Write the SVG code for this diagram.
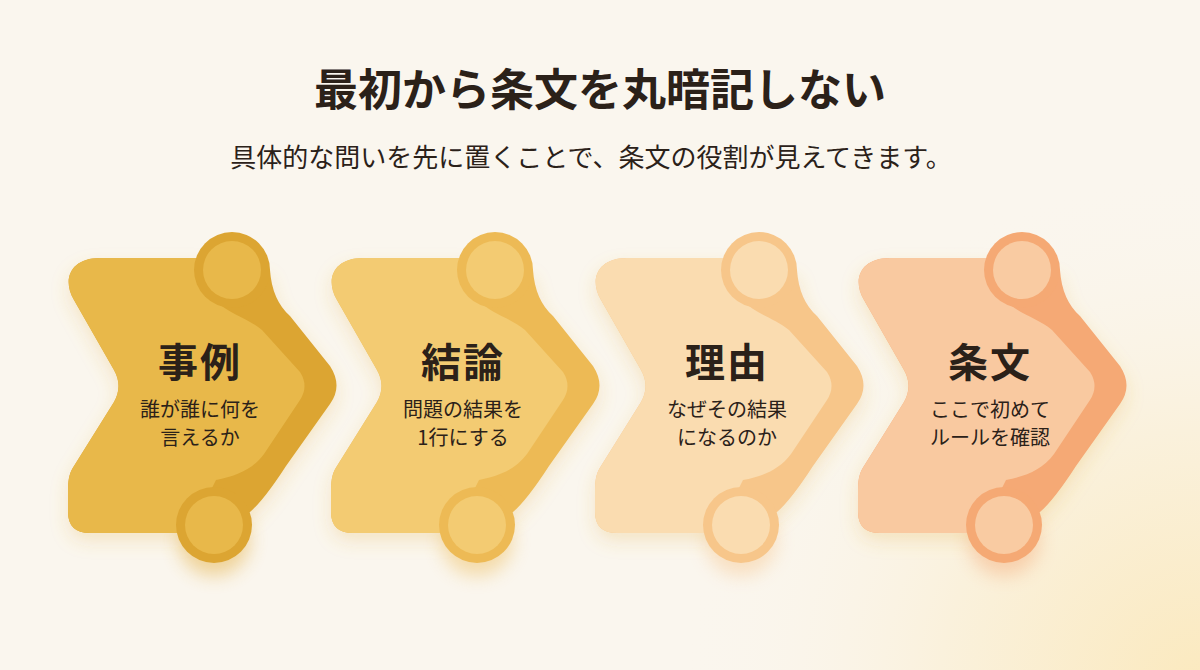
<svg xmlns="http://www.w3.org/2000/svg" xmlns:xlink="http://www.w3.org/1999/xlink" width="1200" height="670" viewBox="0 0 1200 670">
<defs>
<radialGradient id="bgGlow" cx="1200" cy="690" r="520" gradientUnits="userSpaceOnUse">
<stop offset="0" stop-color="#FBE9BE"/>
<stop offset="0.5" stop-color="#FAF1DC"/>
<stop offset="1" stop-color="#FAF6EE" stop-opacity="0"/>
</radialGradient>
<filter id="soft" x="-30%" y="-30%" width="160%" height="170%">
<feDropShadow dx="0" dy="8" stdDeviation="9" flood-color="#E0A838" flood-opacity="0.22"/>
</filter>
<filter id="glow" x="-60%" y="-60%" width="220%" height="220%">
<feGaussianBlur stdDeviation="9"/>
</filter>
<path id="silh" d="M100,258 L200,258 L232,270 L270,270 Q272,300 290,316 L330,366 Q343,386 330,404 L286,466 Q264,500 250,512 L214,525 L180,533 L90,533 Q68,533 68,512 L68,490 C68,478 70,472 74,466 L114,402 Q123,386 114,370 L74,300 C62,280 70,258 100,258 Z"/>
<path id="body" d="M100,258 L205,258 L215,300 C228,314 248,318 262,330 L300,372 Q309,386 300,400 L264,454 C252,470 236,476 216,480 L206,500 L180,533 L90,533 Q68,533 68,512 L68,490 C68,478 70,472 74,466 L114,402 Q123,386 114,370 L74,300 C62,280 70,258 100,258 Z"/>
</defs>
<style>
.ttl{font-family:"Noto Sans CJK JP","Noto Sans",sans-serif;font-weight:700;fill:#2B2119;text-anchor:middle}
.sub{font-family:"Noto Sans CJK JP","Noto Sans",sans-serif;font-weight:400;fill:#2B2119;text-anchor:middle}
.nt{font-family:"Noto Sans CJK JP","Noto Sans",sans-serif;font-weight:700;font-size:40px;letter-spacing:2px;fill:#2B2119;text-anchor:middle}
.nd{font-family:"Noto Sans CJK JP","Noto Sans",sans-serif;font-weight:400;font-size:20px;fill:#2B2119;text-anchor:middle}
</style>
<rect x="0" y="0" width="1200" height="670" fill="#FAF6EE"/>
<rect x="0" y="0" width="1200" height="670" fill="url(#bgGlow)"/>

<text class="ttl" x="600" y="106" font-size="44">最初から条文を丸暗記しない</text>
<text class="sub" x="591" y="167" font-size="26">具体的な問いを先に置くことで、条文の役割が見えてきます。</text>

<g id="node-jirei">
<circle cx="214" cy="540" r="36" fill="#E2A830" opacity="0.45" filter="url(#glow)"/>
<use xlink:href="#silh" fill="#DCA532" filter="url(#soft)"/>
<use xlink:href="#body" fill="#E8B84A"/>
<circle cx="232" cy="270" r="38" fill="#DCA532"/>
<circle cx="214" cy="525" r="38" fill="#DCA532"/>
<circle cx="232" cy="270" r="29" fill="#E8B84A"/>
<circle cx="214" cy="525" r="29" fill="#E8B84A"/>
<text class="nt" x="200" y="377">事例</text>
<text class="nd" x="200" y="417">誰が誰に何を</text>
<text class="nd" x="200" y="445">言えるか</text>
</g>

<g id="node-ketsuron" transform="translate(263,0)">
<circle cx="214" cy="540" r="36" fill="#EDBA55" opacity="0.45" filter="url(#glow)"/>
<use xlink:href="#silh" fill="#EDBA55" filter="url(#soft)"/>
<use xlink:href="#body" fill="#F3CB72"/>
<circle cx="232" cy="270" r="38" fill="#EDBA55"/>
<circle cx="214" cy="525" r="38" fill="#EDBA55"/>
<circle cx="232" cy="270" r="29" fill="#F3CB72"/>
<circle cx="214" cy="525" r="29" fill="#F3CB72"/>
<text class="nt" x="200" y="377">結論</text>
<text class="nd" x="200" y="417">問題の結果を</text>
<text class="nd" x="200" y="445">1行にする</text>
</g>

<g id="node-riyuu" transform="translate(527,0)">
<circle cx="214" cy="540" r="36" fill="#F7C58A" opacity="0.45" filter="url(#glow)"/>
<use xlink:href="#silh" fill="#F7C68A" filter="url(#soft)"/>
<use xlink:href="#body" fill="#FADCB0"/>
<circle cx="232" cy="270" r="38" fill="#F7C68A"/>
<circle cx="214" cy="525" r="38" fill="#F7C68A"/>
<circle cx="232" cy="270" r="29" fill="#FADCB0"/>
<circle cx="214" cy="525" r="29" fill="#FADCB0"/>
<text class="nt" x="200" y="377">理由</text>
<text class="nd" x="200" y="417">なぜその結果</text>
<text class="nd" x="200" y="445">になるのか</text>
</g>

<g id="node-joubun" transform="translate(790,0)">
<circle cx="214" cy="540" r="36" fill="#F5A874" opacity="0.45" filter="url(#glow)"/>
<use xlink:href="#silh" fill="#F5A974" filter="url(#soft)"/>
<use xlink:href="#body" fill="#F9C9A0"/>
<circle cx="232" cy="270" r="38" fill="#F5A974"/>
<circle cx="214" cy="525" r="38" fill="#F5A974"/>
<circle cx="232" cy="270" r="29" fill="#F9CBA2"/>
<circle cx="214" cy="525" r="29" fill="#F9CBA2"/>
<text class="nt" x="200" y="377">条文</text>
<text class="nd" x="200" y="417">ここで初めて</text>
<text class="nd" x="200" y="445">ルールを確認</text>
</g>
</svg>
